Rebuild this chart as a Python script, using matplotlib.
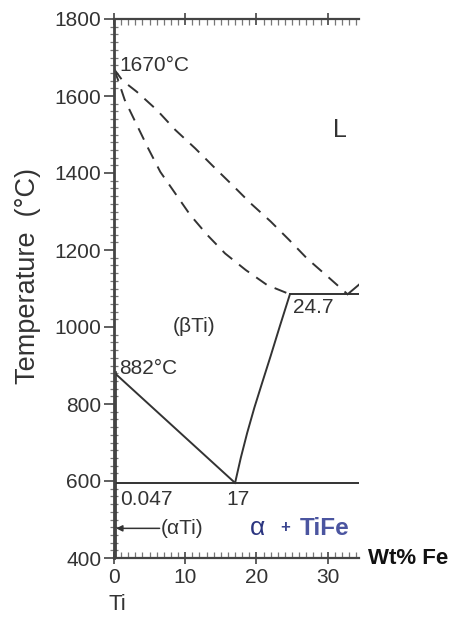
import matplotlib
matplotlib.use("Agg")
import matplotlib.pyplot as plt
from matplotlib.ticker import MultipleLocator

plt.rcParams['font.family'] = ['Liberation Sans', 'DejaVu Sans']

# ---- data ----
liquidus_x = [0, 1.2, 3.2, 6.0, 8.6, 11.4, 14.0, 16.6, 19.2, 22.0, 24.6, 27.1, 30.0, 32.8]
liquidus_T = [1670, 1640, 1611, 1564, 1512, 1464, 1416, 1369, 1321, 1274, 1226, 1178, 1131, 1085]

solidus_x = [0, 0.6, 1.5, 3.2, 4.8, 6.5, 8.6, 10.7, 13.1, 15.6, 18.5, 21.5, 24.7]
solidus_T = [1670, 1640, 1590, 1525, 1464, 1403, 1347, 1291, 1239, 1191, 1148, 1109, 1085]

tife_liq_x = [32.8, 34.4]
tife_liq_T = [1085, 1110]

transus_x = [0, 17]
transus_T = [882, 595]

beta_solvus_x = [17, 17.8, 18.7, 19.7, 20.8, 22.0, 23.3, 24.7]
beta_solvus_T = [595, 660, 725, 790, 855, 925, 1003, 1085]

alpha_x = [0.25, 0.25]
alpha_T = [400, 882]

eutectoid_T = 595
eutectic_T = 1085
x_max = 34.4
x_ticks = [0, 10, 20, 30]
y_ticks = [400, 600, 800, 1000, 1200, 1400, 1600, 1800]

W, H = 452, 621
fig = plt.figure(figsize=(W / 100, H / 100), dpi=100)
ax = fig.add_axes([114 / W, 1 - 558 / H, (359 - 114) / W, (558 - 19) / H])

lc = '#333333'
lw = 1.4
dash = (0, (6.5, 4.5))
ax.plot(liquidus_x, liquidus_T, color=lc, lw=lw, ls=dash)
ax.plot(solidus_x, solidus_T, color=lc, lw=lw, ls=dash)
ax.plot(tife_liq_x, tife_liq_T, color=lc, lw=lw)
ax.plot(transus_x, transus_T, color=lc, lw=lw)
ax.plot(beta_solvus_x, beta_solvus_T, color=lc, lw=lw)
ax.plot(alpha_x, alpha_T, color=lc, lw=1.2)
ax.plot([0, x_max], [eutectoid_T, eutectoid_T], color=lc, lw=lw)
ax.plot([24.7, x_max], [eutectic_T, eutectic_T], color=lc, lw=lw)

ax.set_xlim(0, x_max)
ax.set_ylim(400, 1800)
ax.set_xticks(x_ticks)
ax.set_yticks(y_ticks)
ax.xaxis.set_minor_locator(MultipleLocator(1))
ax.yaxis.set_minor_locator(MultipleLocator(20))

ax.spines['right'].set_visible(False)
ax.spines['left'].set_linewidth(2.0)
ax.spines['bottom'].set_linewidth(1.6)
ax.spines['top'].set_linewidth(1.6)
for s in ['left', 'bottom', 'top']:
    ax.spines[s].set_color('#444444')

ax.tick_params(axis='y', which='major', direction='out', length=7, width=1.2,
               colors='#444444', labelsize=15, labelcolor='#333333', pad=2)
ax.tick_params(axis='y', which='minor', direction='inout', length=6, width=0.9,
               colors='#777777')
ax.tick_params(axis='x', which='major', direction='inout', length=8, width=1.2,
               colors='#444444', labelsize=15, labelcolor='#333333', pad=3,
               top=True)
ax.tick_params(axis='x', which='minor', direction='in', length=4, width=0.9,
               colors='#777777', top=True)

fig.text(28 / W, 1 - 276 / H, 'Temperature  (°C)', rotation=90, ha='center',
         va='center', fontsize=19.5, color='#333333')
fig.text(368 / W, 1 - 558 / H, 'Wt% Fe', ha='left', va='center', fontsize=16,
         fontweight='bold', color='#111111')
fig.text(117 / W, 1 - 605 / H, 'Ti', ha='center', va='center', fontsize=16,
         color='#333333')

tc = '#333333'
ax.text(0.7, 1680, '1670°C', ha='left', va='center', fontsize=15, color=tc)
ax.text(0.7, 893, '882°C', ha='left', va='center', fontsize=15, color=tc)
ax.text(31.7, 1512, 'L', ha='center', va='center', fontsize=18, color=tc)
ax.text(11.2, 1000, '(βTi)', ha='center', va='center', fontsize=15, color=tc)
ax.text(25.2, 1050, '24.7', ha='left', va='center', fontsize=15, color=tc)
ax.text(0.8, 553, '0.047', ha='left', va='center', fontsize=15, color=tc)
ax.text(17.4, 553, '17', ha='center', va='center', fontsize=15, color=tc)
ax.annotate('', xy=(0.3, 477), xytext=(6.4, 477),
            arrowprops=dict(arrowstyle='-|>', color=lc, lw=1.1,
                            mutation_scale=9, shrinkA=0, shrinkB=0))
ax.text(6.5, 477, '(αTi)', ha='left', va='center', fontsize=15, color=tc)
ax.text(19.1, 479, 'α', ha='left', va='center', fontsize=19, color='#2b3580')
ax.text(23.4, 479, '+', ha='left', va='center', fontsize=12, color='#3b4590',
        fontweight='bold')
ax.text(33.0, 477, 'TiFe', ha='right', va='center', fontsize=17.5,
        color='#4b55a0', fontweight='bold')

fig.savefig('out.png', dpi=100)
